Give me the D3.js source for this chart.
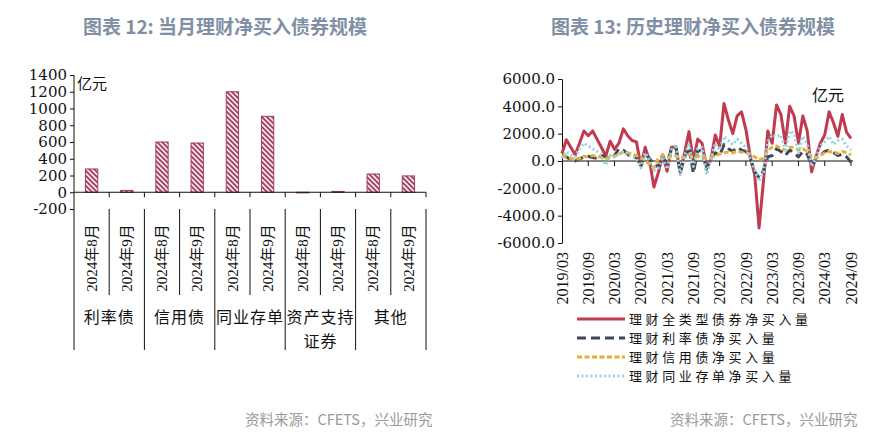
<!DOCTYPE html>
<html>
<head>
<meta charset="utf-8">
<script src="https://cdn.jsdelivr.net/npm/d3@7/dist/d3.min.js"></script>
<style>
  body { margin: 0; background: #fff; }
  text { fill: #111; }
</style>
</head>
<body>
<svg id="chart" width="891" height="441"></svg>
<script>
// ---- left chart data ----
const barGroups = ["利率债", "信用债", "同业存单", ["资产支持", "证券"], "其他"];
const barMonths = ["2024年8月", "2024年9月"];
const barValues = [278, 22, 600, 588, 1200, 907, -8, 10, 218, 195];
const barTicks = [-200, 0, 200, 400, 600, 800, 1000, 1200, 1400];

// ---- right chart data (monthly, 2019/03 .. 2024/09) ----
const totalNet = [550, 1550, 1000, 450, 1300, 2200, 1850, 2200, 1600, 1000,
  350, 1450, 850, 1300, 2350, 1850, 1500, 1400, -350, 1000,
  0, -1900, -850, 450, -750, 1000, 1050, -850, 600, 2150,
  0, 1600, 1300, -500, 100, 1900, 1050, 4200, 3000, 2000,
  3300, 3600, 2300, 300, -1000, -4900, -1500, 2200, 1300, 4100,
  3400, 1300, 4000, 3300, 1300, 3300, 2200, -800, 300, 1300,
  1900, 3600, 2800, 1800, 3400, 2100, 1650];
const rateNet = [400, 300, 100, 0, 150, 300, 350, 250, 200, 400,
  300, 150, 400, 900, 800, 500, 200, 300, -400, 500,
  200, -300, -400, 300, -200, 900, 1000, -900, 300, 1000,
  -900, 800, 700, -600, 200, 600, 400, 1200, 900, 700,
  1000, 800, 700, 200, -800, -1200, -700, 300, 400, 900,
  700, 400, 800, 600, 300, 700, 500, -300, 200, 400,
  700, 800, 600, 400, 500, 300, -100];
const creditNet = [400, 300, 200, 100, 200, 350, 300, 400, 350, 250,
  200, 300, 350, 500, 650, 600, 500, 400, 200, 100,
  -300, -500, 200, 400, 300, 350, 400, 200, 300, 450,
  300, 350, 300, 200, 300, 400, 500, 600, 650, 600,
  700, 650, 600, 500, 300, 100, 200, 800, 1000, 1100,
  900, 800, 1000, 1000, 800, 900, 700, 300, 200, 400,
  600, 700, 650, 550, 700, 600, 450];
const ncdNet = [200, 700, 500, 300, 900, 1300, 1100, 900, 700, 400,
  -300, 400, 300, 500, 700, 500, 300, 200, -500, 600,
  100, -700, -500, 300, -600, 800, 1200, -1000, 400, 1200,
  -400, 900, 1000, -1000, 100, 1300, 800, 1800, 1500, 1200,
  1600, 1300, 1000, 200, -600, -1500, -800, 1400, 1900, 1800,
  1900, 800, 2200, 2000, 600, 1800, 1200, -400, 200, 1100,
  1400, 1800, 1200, 1500, 1600, 1100, 800];
const lineTicks = [-6000, -4000, -2000, 0, 2000, 4000, 6000];
const seriesNames = ["理财全类型债券净买入量", "理财利率债净买入量", "理财信用债净买入量", "理财同业存单净买入量"];

const months = [];
for (let y = 2019; y <= 2024; y++) {
  for (let m = 1; m <= 12; m++) {
    if ((y === 2019 && m < 3) || (y === 2024 && m > 9)) continue;
    months.push(y + "/" + String(m).padStart(2, "0"));
  }
}

const svg = d3.select("#chart");
const numFont = "'DejaVu Serif', serif";
const rotFont = "'Liberation Serif', 'Noto Sans CJK SC', serif";
const cjkFont = "'Noto Sans CJK SC', sans-serif";

// titles
svg.append("text").attr("x", 225).attr("y", 34).attr("text-anchor", "middle")
  .style("font-family", cjkFont).style("font-size", "19px").style("font-weight", "bold")
  .style("fill", "#8090a4").text("图表 12: 当月理财净买入债券规模");
svg.append("text").attr("x", 693).attr("y", 34).attr("text-anchor", "middle")
  .style("font-family", cjkFont).style("font-size", "19px").style("font-weight", "bold")
  .style("fill", "#8090a4").text("图表 13: 历史理财净买入债券规模");

// source notes
[245, 670].forEach(x => {
  svg.append("text").attr("x", x).attr("y", 425)
    .style("font-family", cjkFont).style("font-size", "14.5px").style("fill", "#9a9a9a")
    .text("资料来源：CFETS，兴业研究");
});

// ================= left chart =================
const defs = svg.append("defs");
const pat = defs.append("pattern").attr("id", "hatch").attr("patternUnits", "userSpaceOnUse")
  .attr("width", 5).attr("height", 5);
pat.append("rect").attr("width", 5).attr("height", 5).attr("fill", "#fce6ee");
pat.append("path").attr("d", "M-1,-1 L6,6 M-1,4 L1,6 M4,-1 L6,1")
  .attr("stroke", "#9e3f5f").attr("stroke-width", 1.8);

const yL = d3.scaleLinear().domain([-200, 1400]).range([209, 75]);
const xL = d3.scaleBand().domain(d3.range(barValues.length)).range([74, 426]);

const left = svg.append("g");

const yAxisL = left.append("g").attr("transform", "translate(74,0)")
  .call(d3.axisLeft(yL).tickValues(barTicks).tickSize(4).tickSizeOuter(0).tickFormat(d => String(d)));
yAxisL.select(".domain").remove();
yAxisL.selectAll("text").style("font-family", numFont).style("font-size", "15px").style("fill", "#111");
yAxisL.selectAll("line").attr("stroke", "#111");
left.append("line").attr("x1", 74).attr("x2", 74).attr("y1", yL(1400)).attr("y2", 350).attr("stroke", "#111");

left.append("text").attr("x", 77).attr("y", 89).style("font-family", cjkFont).style("font-size", "15px").text("亿元");

// bars
const bw = xL.bandwidth() * 0.35;
left.selectAll("rect.bar").data(barValues).enter().append("rect").attr("class", "bar")
  .attr("x", (d, i) => xL(i) + xL.bandwidth() / 2 - bw / 2)
  .attr("y", d => yL(Math.max(0, d)))
  .attr("width", bw)
  .attr("height", d => Math.abs(yL(d) - yL(0)))
  .attr("fill", "url(#hatch)").attr("stroke", "#9e3f5f").attr("stroke-width", 1);

// category axis at zero
left.append("line").attr("x1", 74).attr("x2", 426).attr("y1", yL(0)).attr("y2", yL(0)).attr("stroke", "#111");
left.selectAll("line.ctick").data(barValues).enter().append("line").attr("class", "ctick")
  .attr("x1", (d, i) => xL(i) + xL.step()).attr("x2", (d, i) => xL(i) + xL.step())
  .attr("y1", yL(0)).attr("y2", yL(0) + 5).attr("stroke", "#111");

// multi-level labels
left.selectAll("line.sep").data(barValues).enter().append("line").attr("class", "sep")
  .attr("x1", (d, i) => xL(i) + xL.step()).attr("x2", (d, i) => xL(i) + xL.step())
  .attr("y1", 209).attr("y2", (d, i) => (i % 2 === 1 ? 350 : 295)).attr("stroke", "#111");

left.selectAll("text.month").data(barValues).enter().append("text").attr("class", "month")
  .attr("transform", (d, i) => "translate(" + (xL(i) + xL.bandwidth() / 2) + ",258) rotate(-90)")
  .attr("text-anchor", "middle").attr("dy", "0.35em")
  .style("font-family", rotFont).style("font-size", "15px")
  .text((d, i) => barMonths[i % 2]);

barGroups.forEach((g, gi) => {
  const cx = xL(gi * 2) + xL.step();
  const lines = Array.isArray(g) ? g : [g];
  lines.forEach((t, li) => {
    left.append("text").attr("x", cx).attr("y", 323 + li * 24).attr("text-anchor", "middle")
      .style("font-family", cjkFont).style("font-size", "16px").style("letter-spacing", "1px").text(t);
  });
});

// ================= right chart =================
const xR = d3.scaleLinear().domain([0, months.length - 1]).range([562, 851]);
const yR = d3.scaleLinear().domain([-6000, 6000]).range([243, 79]);
const right = svg.append("g");

const yAxisR = right.append("g").attr("transform", "translate(562,0)")
  .call(d3.axisLeft(yR).tickValues(lineTicks).tickSize(4).tickSizeOuter(0).tickFormat(d => d.toFixed(1)));
yAxisR.select(".domain").attr("stroke", "#111");
yAxisR.selectAll("text").style("font-family", numFont).style("font-size", "15px").style("fill", "#111");
yAxisR.selectAll("line").attr("stroke", "#111");

const labelIdx = d3.range(0, months.length, 6);
right.append("line").attr("x1", 562).attr("x2", 853).attr("y1", yR(0)).attr("y2", yR(0)).attr("stroke", "#111");
right.selectAll("line.xt").data(labelIdx.slice(1)).enter().append("line").attr("class", "xt")
  .attr("x1", d => xR(d)).attr("x2", d => xR(d)).attr("y1", yR(0)).attr("y2", yR(0) + 5).attr("stroke", "#111");
right.selectAll("text.xl").data(labelIdx).enter().append("text").attr("class", "xl")
  .attr("transform", d => "translate(" + xR(d) + ",252) rotate(-90)")
  .attr("text-anchor", "end").attr("dy", "0.35em")
  .style("font-family", rotFont).style("font-size", "16px")
  .text(d => months[d]);

right.append("text").attr("x", 812).attr("y", 101).style("font-family", cjkFont).style("font-size", "16px").text("亿元");

const styles = [
  { data: totalNet, color: "#c23a50", dash: null, w: 3 },
  { data: rateNet, color: "#3d4858", dash: "9,5", w: 3 },
  { data: creditNet, color: "#e8ae3a", dash: "5,2.5", w: 3 },
  { data: ncdNet, color: "#95d6e2", dash: "2,2.5", w: 3 }
];
const line = d3.line().x((d, i) => xR(i)).y(d => yR(d));
styles.forEach(s => {
  right.append("path").datum(s.data).attr("d", line).attr("fill", "none")
    .attr("stroke", s.color).attr("stroke-width", s.w)
    .attr("stroke-dasharray", s.dash).attr("stroke-linejoin", "round");
});

// legend
styles.forEach((s, i) => {
  const ly = 319 + i * 19;
  right.append("line").attr("x1", 577).attr("x2", 625).attr("y1", ly).attr("y2", ly)
    .attr("stroke", s.color).attr("stroke-width", s.w).attr("stroke-dasharray", s.dash);
  right.append("text").attr("x", 629).attr("y", ly).attr("dy", "0.35em")
    .style("font-family", cjkFont).style("font-size", "13px").style("letter-spacing", "3.6px").text(seriesNames[i]);
});
</script>
</body>
</html>
